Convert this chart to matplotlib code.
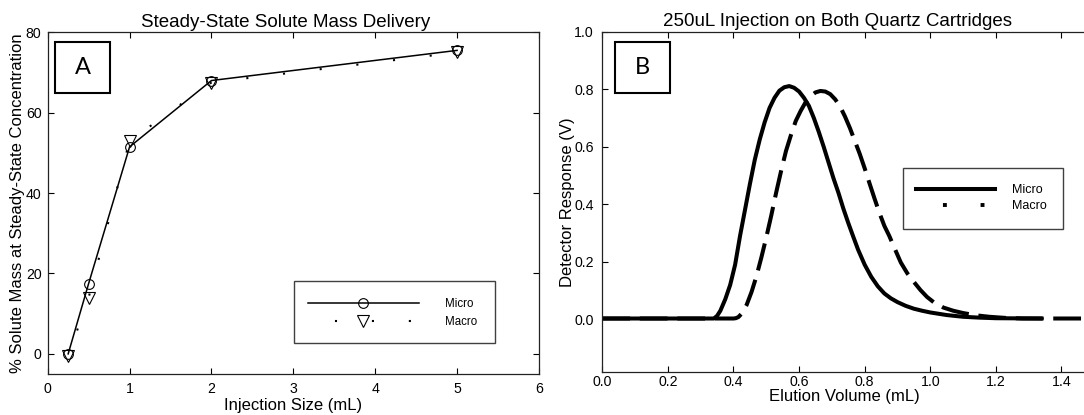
import numpy as np
import matplotlib
matplotlib.use("Agg")
import matplotlib.pyplot as plt
from matplotlib.patches import Rectangle
from matplotlib.lines import Line2D

plt.rcParams['font.family'] = ['Liberation Sans', 'DejaVu Sans']
plt.rcParams['lines.scale_dashes'] = False

# panel A: steady-state delivery
inj_size = [0.25, 0.5, 1.0, 2.0, 5.0]
micro_pct = [0.0, 17.5, 51.5, 68.0, 75.5]
macro_pct = [-0.5, 14.0, 53.0, 67.5, 75.0]

# panel B: 250uL injection traces
micro_vol = [0.0, 0.10, 0.20, 0.30, 0.34, 0.35, 0.36, 0.375, 0.39, 0.405, 0.42, 0.435,
             0.45, 0.465, 0.48, 0.495, 0.51, 0.525, 0.54, 0.555, 0.57, 0.585, 0.60,
             0.615, 0.63, 0.645, 0.66, 0.675, 0.69, 0.705, 0.72, 0.735, 0.75, 0.765,
             0.78, 0.80, 0.82, 0.84, 0.86, 0.88, 0.90, 0.925, 0.95, 0.975, 1.00,
             1.05, 1.10, 1.15, 1.20, 1.34]
micro_v = [0.003, 0.003, 0.003, 0.003, 0.003, 0.012, 0.03, 0.07, 0.12, 0.19, 0.29, 0.38,
           0.47, 0.555, 0.625, 0.685, 0.735, 0.77, 0.795, 0.807, 0.811, 0.805, 0.792,
           0.77, 0.742, 0.70, 0.652, 0.60, 0.545, 0.49, 0.44, 0.385, 0.335, 0.288,
           0.242, 0.19, 0.148, 0.115, 0.09, 0.073, 0.06, 0.047, 0.037, 0.030, 0.024,
           0.015, 0.009, 0.006, 0.004, 0.003]

macro_vol = [0.0, 0.10, 0.20, 0.30, 0.40, 0.407, 0.415, 0.425, 0.44, 0.455, 0.47, 0.485,
             0.50, 0.515, 0.53, 0.545, 0.56, 0.575, 0.59, 0.605, 0.62, 0.635, 0.65,
             0.665, 0.68, 0.695, 0.71, 0.725, 0.74, 0.755, 0.77, 0.785, 0.80, 0.815,
             0.83, 0.845, 0.86, 0.875, 0.89, 0.91, 0.93, 0.95, 0.97, 0.99, 1.01,
             1.04, 1.07, 1.10, 1.14, 1.18, 1.23, 1.28, 1.47]
macro_v = [0.003, 0.003, 0.003, 0.003, 0.003, 0.004, 0.008, 0.02, 0.05, 0.095, 0.15, 0.215,
           0.285, 0.36, 0.44, 0.515, 0.585, 0.64, 0.69, 0.725, 0.755, 0.776, 0.789,
           0.794, 0.792, 0.783, 0.765, 0.74, 0.705, 0.665, 0.62, 0.575, 0.525, 0.472,
           0.42, 0.37, 0.325, 0.29, 0.25, 0.198, 0.16, 0.13, 0.102, 0.078, 0.06,
           0.041, 0.03, 0.022, 0.014, 0.009, 0.005, 0.003, 0.003]

fig = plt.figure(figsize=(10.84, 4.15), dpi=100)
axA = fig.add_axes([0.044, 0.0988, 0.4532, 0.8234])
axB = fig.add_axes([0.5556, 0.1029, 0.4539, 0.8207])

for ax in (axA, axB):
    ax.tick_params(direction='in', top=True, right=True, length=4, width=0.8,
                   labelsize=10.2, pad=6)
    for s in ax.spines.values():
        s.set_linewidth(0.9)
        s.set_color('#222222')

# ---- A
axA.plot(inj_size, micro_pct, '-', color='black', lw=1.1, marker='o', ms=7,
         mfc='none', mec='black', mew=0.8)
axA.plot(inj_size, macro_pct, color='black', lw=1.5, linestyle=(7.2, (1.5, 25.1)),
         dash_capstyle='butt', marker='v', ms=8.5, mfc='none', mec='black', mew=0.8)
axA.set_xlim(0, 6)
axA.set_ylim(-5, 80)
axA.set_xticks(range(0, 7))
axA.set_yticks([0, 20, 40, 60, 80])
axA.tick_params(axis='y', pad=4.5)
axA.set_title('Steady-State Solute Mass Delivery', fontsize=13.5, pad=4, x=0.485)
axA.set_xlabel('Injection Size (mL)', fontsize=12, labelpad=1)
axA.set_ylabel('% Solute Mass at Steady-State Concentration', fontsize=12)
axA.yaxis.set_label_coords(-0.046, 0.5)

axA.add_patch(Rectangle((0.014, 0.823), 0.1138, 0.149, transform=axA.transAxes,
                        fill=False, lw=1.5, ec='black'))
axA.text(0.0708, 0.898, 'A', transform=axA.transAxes, ha='center', va='center',
         fontsize=17, family='Lato')

axA.add_patch(Rectangle((0.502, 0.0898), 0.409, 0.1823, transform=axA.transAxes,
                        fill=False, lw=1.0, ec='#404040'))
hA = [Line2D([], [], color='black', lw=1.1, marker='o', ms=7, mfc='none', mew=0.8),
      Line2D([], [], color='black', lw=1.5, linestyle=(7.2, (1.5, 25.1)),
             dash_capstyle='butt', marker='v', ms=8.5, mfc='none', mew=0.8)]
axA.legend(hA, ['Micro', 'Macro'], loc='center left', bbox_to_anchor=(0.5298, 0.1785),
           frameon=False, fontsize=8.3, handlelength=9.6, handletextpad=2.3,
           borderpad=0, borderaxespad=0, labelspacing=0.55)

# ---- B
axB.plot(micro_vol, micro_v, '-', color='black', lw=2.9, solid_capstyle='round',
         solid_joinstyle='round')
axB.plot(macro_vol, macro_v, color='black', lw=2.9, linestyle=(0, (20, 7)),
         dash_capstyle='butt', dash_joinstyle='round')
axB.set_xlim(0, 1.5)
axB.set_ylim(-0.184, 1.0)
axB.set_xticks(np.arange(0, 1.41, 0.2))
axB.set_xticklabels(['0.0', '0.2', '0.4', '0.6', '0.8', '1.0', '1.2', '1.4'])
axB.set_yticks(np.arange(0, 1.01, 0.2))
axB.set_yticklabels(['0.0', '0.2', '0.4', '0.6', '0.8', '1.0'])
axB.tick_params(axis='x', pad=2)
axB.set_title('250uL Injection on Both Quartz Cartridges', fontsize=13.5, pad=4, x=0.479)
axB.set_xlabel('Elution Volume (mL)', fontsize=12)
axB.xaxis.set_label_coords(0.493, -0.05)
axB.set_ylabel('Detector Response (V)', fontsize=12, labelpad=-0.6)

axB.add_patch(Rectangle((0.0253, 0.819), 0.1125, 0.1515, transform=axB.transAxes,
                        fill=False, lw=1.5, ec='black'))
axB.text(0.0814, 0.895, 'B', transform=axB.transAxes, ha='center', va='center',
         fontsize=17, family='Lato')

axB.add_patch(Rectangle((0.6122, 0.4216), 0.3242, 0.1791, transform=axB.transAxes,
                        fill=False, lw=1.0, ec='#404040'))
hB = [Line2D([], [], color='black', lw=2.9),
      Line2D([], [], color='black', lw=2.8, linestyle=(7.7, (2.8, 24.3)),
             dash_capstyle='butt')]
axB.legend(hB, ['Micro', 'Macro'], loc='center left', bbox_to_anchor=(0.6376, 0.511),
           frameon=False, fontsize=9, handlelength=6.3, handletextpad=1.36,
           borderpad=0, borderaxespad=0, labelspacing=0.35)

fig.savefig('out.png', dpi=100)
